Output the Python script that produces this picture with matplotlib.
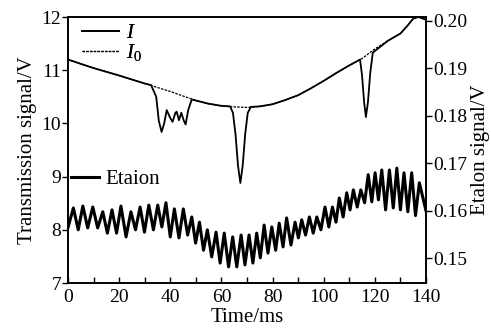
import numpy as np
import matplotlib.pyplot as plt

plt.rcParams['font.family'] = ['Liberation Serif', 'DejaVu Serif']
plt.rcParams['mathtext.fontset'] = 'custom'
plt.rcParams['mathtext.rm'] = 'Liberation Serif'
plt.rcParams['mathtext.it'] = 'Liberation Serif:italic'

# --- Transmission I0 (Grundlinie, ohne Absorption) ---
t_i0 = [0, 10, 20, 30, 40, 50, 55, 60, 65, 70, 75, 80, 85, 90, 95, 100,
        105, 110, 115, 120, 125, 130, 133, 135, 137, 140]
v_i0 = [11.2, 11.04, 10.9, 10.75, 10.6, 10.43, 10.37, 10.33, 10.31, 10.30,
        10.32, 10.36, 10.44, 10.53, 10.66, 10.8, 10.95, 11.09, 11.22, 11.4,
        11.55, 11.69, 11.85, 11.97, 12.0, 11.95]

# --- Transmission I (mit Absorptionslinien) ---
t_i = [0, 10, 20, 30, 32.5, 34.5, 35.5, 36.6, 37.6, 38.6, 40.0, 40.9, 42.0,
       42.5, 43.4, 44.3, 45.3, 46.0, 47.0, 48.4, 55, 60, 63.4, 64.5, 65.5,
       66.5, 67.4, 68.3, 69.3, 70.3, 71.5, 75, 80, 85, 90, 95, 100, 105, 110,
       114.2, 115.0, 115.8, 116.5, 117.3, 118.2, 119.2, 125, 130, 133, 135,
       137, 140]
v_i = [11.2, 11.04, 10.9, 10.75, 10.72, 10.5, 10.05, 9.84, 10.0, 10.25, 10.1,
       10.03, 10.2, 10.22, 10.06, 10.2, 10.05, 9.98, 10.25, 10.45, 10.37,
       10.33, 10.32, 10.2, 9.8, 9.2, 8.88, 9.2, 9.8, 10.2, 10.31, 10.32, 10.36,
       10.44, 10.53, 10.66, 10.8, 10.95, 11.09, 11.2, 10.9, 10.4, 10.12, 10.4,
       10.95, 11.33, 11.55, 11.69, 11.85, 11.97, 12.0, 11.95]

# --- Etalon: Maxima und Minima ---
peak_t = [2.1, 5.8, 9.7, 13.6, 17.2, 20.7, 24.6, 28.2, 31.6, 35.1, 38.3, 41.6,
          45.1, 48.4, 51.4, 54.5, 57.9, 61.1, 64.4, 67.7, 70.8, 73.8, 76.7,
          79.7, 82.6, 85.5, 88.8, 91.4, 94.4, 97.3, 100.5, 103.4, 106.1, 109.0,
          111.6, 114.5, 117.4, 120.1, 122.7, 125.7, 128.6, 131.4, 134.4, 137.4]
peak_v = [0.1606, 0.1610, 0.1608, 0.1598, 0.1602, 0.1610, 0.1598, 0.1608,
          0.1612, 0.1612, 0.1617, 0.1604, 0.1604, 0.1587, 0.1576, 0.1560,
          0.1555, 0.1553, 0.1545, 0.1549, 0.1549, 0.1553, 0.1570, 0.1566,
          0.1574, 0.1585, 0.1576, 0.1581, 0.1587, 0.1587, 0.1608, 0.1608,
          0.1627, 0.1638, 0.1644, 0.1644, 0.1676, 0.1680, 0.1686, 0.1686,
          0.1690, 0.1680, 0.1680, 0.1659]
trough_t = [4.0, 7.7, 11.6, 15.4, 19.0, 22.7, 26.4, 29.9, 33.4, 36.7, 40.0,
            43.4, 46.8, 49.9, 53.0, 56.2, 59.5, 62.8, 66.0, 69.2, 72.3, 75.2,
            78.2, 81.2, 84.1, 87.2, 90.1, 92.9, 95.9, 98.9, 102.0, 104.8,
            107.6, 110.3, 113.1, 116.0, 118.8, 121.4, 124.2, 127.2, 130.0,
            132.9, 135.9]
trough_v = [0.1560, 0.1564, 0.1564, 0.1553, 0.1553, 0.1545, 0.1560, 0.1555,
            0.1560, 0.1566, 0.1545, 0.1543, 0.1549, 0.1532, 0.1517, 0.1503,
            0.1490, 0.1482, 0.1482, 0.1486, 0.1490, 0.1501, 0.1511, 0.1517,
            0.1524, 0.1528, 0.1543, 0.1549, 0.1553, 0.1560, 0.1566, 0.1576,
            0.1587, 0.1602, 0.1608, 0.1617, 0.1619, 0.1623, 0.1602, 0.1606,
            0.1602, 0.1598, 0.1590]
etalon_start = (0, 0.1565)
etalon_end = (140, 0.1600)

# Maxima und Minima abwechselnd zusammensetzen
n = len(trough_t)
t_et = [etalon_start[0]]
v_et = [etalon_start[1]]
for k in range(n):
    t_et += [peak_t[k], trough_t[k]]
    v_et += [peak_v[k], trough_v[k]]
t_et += [peak_t[-1], etalon_end[0]]
v_et += [peak_v[-1], etalon_end[1]]

fig = plt.figure(figsize=(4.91, 3.29), dpi=100)
ax = fig.add_axes([0.1385, 0.1398, 0.7291, 0.8085])
ax2 = ax.twinx()

l_i0, = ax.plot(t_i0, v_i0, color='black', linestyle=(0, (2, 1)), linewidth=0.9)
l_i, = ax.plot(t_i, v_i, color='black', linewidth=1.3)
l_et, = ax2.plot(t_et, v_et, color='black', linewidth=2.2)

ax.set_xlim(0, 140)
ax.set_ylim(7, 12)
ax2.set_ylim(0.1448, 0.2008)

ax.set_xticks(np.arange(0, 141, 20))
ax.set_xticks(np.arange(0, 141, 10), minor=True)
ax.set_yticks([7, 8, 9, 10, 11, 12])
ax2.set_yticks([0.15, 0.16, 0.17, 0.18, 0.19, 0.20])
ax2.set_yticklabels(['0.15', '0.16', '0.17', '0.18', '0.19', '0.20'])

ax.tick_params(axis='x', which='both', direction='in', length=4, width=1,
               labelsize=14, pad=4)
ax.tick_params(axis='y', direction='out', length=4, width=1, labelsize=14, pad=1)
ax2.tick_params(axis='y', direction='out', length=4, width=1, labelsize=14, pad=1)

for a in (ax, ax2):
    for s in a.spines.values():
        s.set_linewidth(1.2)

ax.set_xlabel('Time/ms', fontsize=15, labelpad=2)
ax.set_ylabel('Transmission signal/V', fontsize=15, labelpad=3)
ax2.set_ylabel('Etalon signal/V', fontsize=15, labelpad=3)

leg1 = ax.legend([l_i, l_i0], ['$I$', r'$I_{\mathrm{0}}$'], loc='upper left',
                 bbox_to_anchor=(-0.012, 1.045), frameon=False, fontsize=15,
                 handlelength=1.75, handletextpad=0.35, labelspacing=-0.05)
ax.add_artist(leg1)
ax2.legend([l_et], ['Etaion'], loc='center left', bbox_to_anchor=(-0.045, 0.39),
           frameon=False, fontsize=15, handlelength=1.35, handletextpad=0.3)

fig.savefig('out.png', dpi=100)
